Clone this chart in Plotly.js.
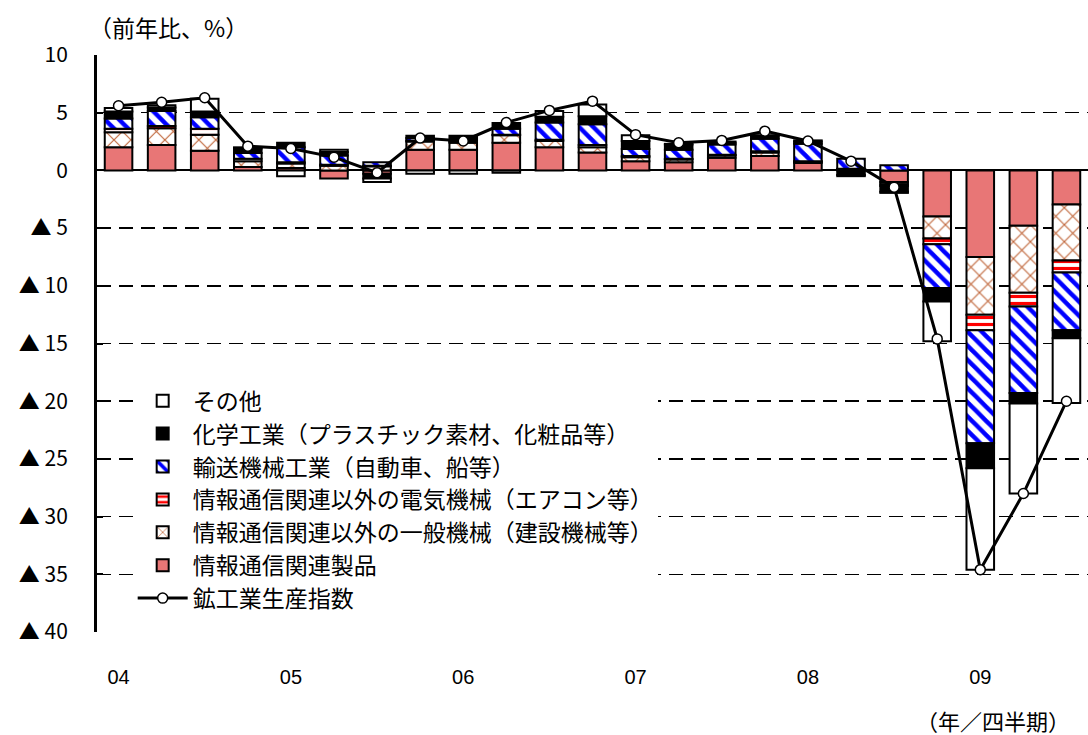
<!DOCTYPE html>
<html>
<head>
<meta charset="utf-8">
<script src="https://cdn.plot.ly/plotly-3.0.1.min.js"></script>
<style>html,body{margin:0;padding:0;background:#fff;}#chart{width:1088px;height:735px;}</style>
</head>
<body>
<div id="chart"></div>
<script>
// Quarters 2004Q1 - 2009Q3
const categories = ['04Q1','04Q2','04Q3','04Q4','05Q1','05Q2','05Q3','05Q4','06Q1','06Q2','06Q3','06Q4',
                    '07Q1','07Q2','07Q3','07Q4','08Q1','08Q2','08Q3','08Q4','09Q1','09Q2','09Q3'];
const yearTickCats = ['04Q1','05Q1','06Q1','07Q1','08Q1','09Q1'];
const yearTickText = ['04','05','06','07','08','09'];

// Contributions (percentage points)
const ictProducts   = [2.0, 2.2, 1.7, 0.3, 0.2, -0.7, -0.3, 1.8, 1.8, 2.4, 2.0, 1.55, 0.8, 0.7, 1.1, 1.25, 0.65, 0.1, -1.0, -4.0, -7.5, -4.8, -2.95];
const generalMach   = [1.3, 1.45, 1.4, 0.5, 0.4, 0.4, 0.35, 0.7, 0.6, 0.65, 0.55, 0.45, 0.35, 0.25, 0.2, 0.3, 0.1, 0.05, -0.2, -1.9, -5.0, -5.8, -4.85];
const electricMach  = [0.3, 0.2, 0.5, 0.2, 0.1, 0.1, 0.05, 0.1, 0.1, 0.05, 0.1, 0.2, 0.1, 0.05, 0.05, 0.1, 0.05, 0.0, -0.15, -0.5, -1.35, -1.2, -1.05];
const transportMach = [0.9, 1.3, 1.0, 0.5, 1.3, 0.8, 0.3, 0.2, 0.1, 0.5, 1.5, 1.8, 0.6, 0.8, 0.9, 1.1, 1.5, 0.85, 0.45, -3.8, -9.8, -7.5, -5.0];
const chemical      = [0.6, 0.3, 0.5, 0.4, 0.4, 0.3, -0.4, 0.2, 0.4, 0.5, 0.5, 0.7, 0.7, 0.45, 0.15, 0.2, 0.2, -0.4, -0.5, -1.15, -2.15, -0.9, -0.7];
const others        = [0.3, 0.2, 1.1, 0.1, -0.5, 0.2, -0.3, -0.3, -0.3, -0.2, 0.5, 1.0, 0.5, 0.05, 0.1, 0.1, 0.1, -0.1, -0.1, -3.45, -8.8, -7.8, -5.6];
// Industrial production index, y/y %
const iip           = [5.6, 5.9, 6.3, 2.1, 1.9, 1.15, -0.2, 2.8, 2.55, 4.15, 5.2, 6.0, 3.1, 2.4, 2.6, 3.4, 2.55, 0.8, -1.45, -14.6, -34.6, -28.0, -20.0];

const yTickVals = [10, 5, 0, -5, -10, -15, -20, -25, -30, -35, -40];
const yTickText = ['10', '5', '0', '▲ 5', '▲ 10', '▲ 15', '▲ 20', '▲ 25', '▲ 30', '▲ 35', '▲ 40'];

const FONT = '"Noto Sans CJK JP", "Noto Sans", sans-serif';
const NUMFONT = '"Liberation Sans", Arial, "Noto Sans CJK JP", sans-serif';
const outline = {color: '#000', width: 2};

function bar(name, vals, rank, marker) {
  return {type: 'bar', name: name, x: categories, y: vals, legendrank: rank,
          marker: Object.assign({line: outline}, marker), hoverinfo: 'skip'};
}

const traces = [
  bar('情報通信関連製品', ictProducts, 6, {color: '#e87676'}),
  bar('情報通信関連以外の一般機械（建設機械等）', generalMach, 5,
      {color: '#ffffff', pattern: {shape: 'x', fgcolor: '#c0663a', bgcolor: '#ffffff', size: 12, solidity: 0.18, fillmode: 'replace'}}),
  bar('情報通信関連以外の電気機械（エアコン等）', electricMach, 4,
      {color: '#ffffff', pattern: {shape: '-', fgcolor: '#ff0000', bgcolor: '#ffffff', size: 7, solidity: 0.45, fillmode: 'replace'}}),
  bar('輸送機械工業（自動車、船等）', transportMach, 3,
      {color: '#ffffff', pattern: {shape: '\\', fgcolor: '#0000ff', bgcolor: '#ffffff', size: 10, solidity: 0.45, fillmode: 'replace'}}),
  bar('化学工業（プラスチック素材、化粧品等）', chemical, 2, {color: '#000000'}),
  bar('その他', others, 1, {color: '#ffffff'}),
  {type: 'scatter', mode: 'lines+markers', name: '鉱工業生産指数', x: categories, y: iip, legendrank: 7,
   line: {color: '#000', width: 3},
   marker: {symbol: 'circle', size: 10, color: '#fff', line: {color: '#000', width: 1.5}},
   hoverinfo: 'skip'}
];

const layout = {
  width: 1088, height: 735,
  margin: {l: 97, r: 0, t: 55, b: 103},
  paper_bgcolor: '#fff', plot_bgcolor: '#fff',
  font: {family: FONT, size: 20, color: '#000'},
  barmode: 'relative', bargap: 0.36,
  showlegend: true,
  legend: {x: 0.036, y: 0.438, xanchor: 'left', yanchor: 'top', bgcolor: '#fff',
           font: {family: FONT, size: 23, color: '#000'}, itemwidth: 50,
           tracegroupgap: 0, traceorder: 'normal'},
  xaxis: {type: 'category', categoryorder: 'array', categoryarray: categories,
          range: [-0.5, 22.5], tickmode: 'array', tickvals: yearTickCats, ticktext: yearTickText,
          ticks: 'outside', ticklen: 27, tickcolor: 'rgba(0,0,0,0)',
          showgrid: false, showline: false, zeroline: false,
          tickfont: {family: NUMFONT, size: 20}},
  xaxis2: {overlaying: 'x', anchor: 'free', position: 0.8, range: [-0.5, 22.5],
           tickmode: 'array', tickvals: categories.map((c, i) => i + 0.5).slice(0, categories.length - 1),
           ticks: 'inside', ticklen: 6, tickwidth: 2, tickcolor: '#000',
           showticklabels: false, showgrid: false, showline: false, zeroline: false},
  yaxis: {range: [-40, 10], tickmode: 'array', tickvals: yTickVals, ticktext: yTickText,
          showgrid: true, gridcolor: '#000', gridwidth: 1.5, griddash: '14px,8px',
          zeroline: true, zerolinecolor: '#000', zerolinewidth: 2,
          showline: true, linecolor: '#000', linewidth: 3,
          ticks: 'inside', ticklen: 6, tickwidth: 2, tickcolor: '#000', ticklabelstandoff: 22,
          tickfont: {family: FONT, size: 21}},
  annotations: [
    {text: '（前年比、%）', xref: 'paper', yref: 'paper', x: -0.01, y: 1.0, yshift: 28,
     xanchor: 'left', yanchor: 'middle', showarrow: false, font: {family: FONT, size: 23}},
    {text: '（年／四半期）', xref: 'paper', yref: 'paper', x: 1.0, y: 0, yshift: -88, xshift: -16,
     xanchor: 'right', yanchor: 'middle', showarrow: false, font: {family: FONT, size: 22}}
  ]
};

Plotly.newPlot('chart', traces, layout, {staticPlot: true, displayModeBar: false});
</script>
</body>
</html>
